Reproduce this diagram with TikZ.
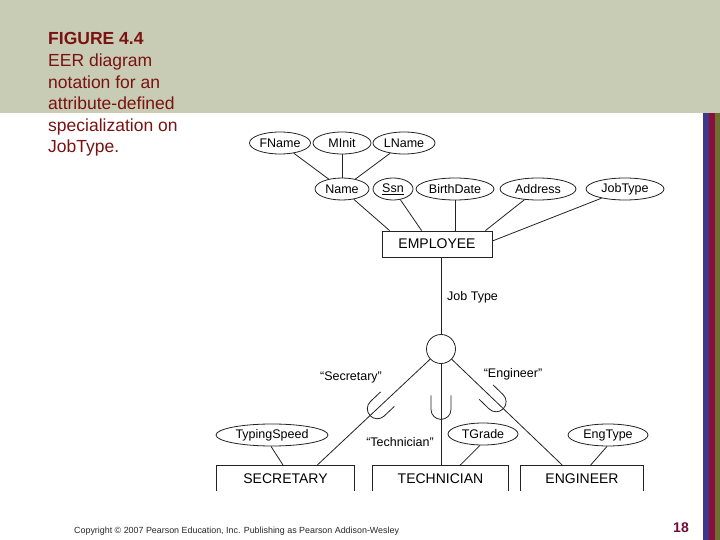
\documentclass[tikz,border=0pt]{standalone}
\usepackage{fontspec}
\setmainfont{Liberation Sans}
\usetikzlibrary{shapes.geometric,calc}
\definecolor{band}{RGB}{200,204,180}
\definecolor{captxt}{RGB}{122,18,18}
\definecolor{pagenum}{RGB}{112,14,52}
\definecolor{stripeblue}{RGB}{62,56,138}
\definecolor{stripered}{RGB}{140,14,60}
\definecolor{stripeolive}{RGB}{108,112,48}
\definecolor{ink}{RGB}{35,35,35}
\tikzset{
  conn/.style={draw=ink, line width=0.8pt},
  pics/subsetU/.style={code={\draw[conn] (-10pt,12pt) -- (-10pt,-2pt) arc[start angle=180,end angle=360,radius=10pt] -- (10pt,12pt);}}
}
\begin{document}
\begin{tikzpicture}[x=1pt,y=-1pt,
  attr/.style={ellipse, draw=ink, line width=0.8pt, inner sep=0pt, minimum height=22pt, font=\fontsize{12.5}{14}\selectfont},
  entity/.style={rectangle, inner sep=0pt, minimum height=26pt, font=\fontsize{14}{16}\selectfont},
  lbl/.style={inner sep=0pt, font=\fontsize{12.5}{14}\selectfont},
  capline/.style={anchor=base west, inner sep=0pt, text=captxt, font=\fontsize{17.5}{21}\selectfont}
]
\useasboundingbox (0,0) rectangle (720,540);
\fill[white] (0,0) rectangle (720,540);
\fill[band] (0,0) rectangle (720,113);
\fill[stripeblue] (703,113) rectangle (709,540);
\fill[stripered] (709,113) rectangle (715,540);
\fill[stripeolive] (715,113) rectangle (720,540);

% caption
\node[capline, font=\fontsize{17.5}{21}\selectfont\bfseries] (c1) at (48,45) {FIGURE 4.4};
\node[capline] (c2) at (48,66.6) {EER diagram};
\node[capline] (c3) at (48,88.2) {notation for an};
\node[capline] (c4) at (48,109.8) {attribute-defined};
\node[capline] (c5) at (48,131.4) {specialization on};
\node[capline] (c6) at (48,153) {JobType.};

% attributes
\node[attr, minimum width=61pt] (fname) at (280,143) {FName};
\node[attr, minimum width=58pt] (minit) at (342,143) {MInit};
\node[attr, minimum width=62pt] (lname) at (404,143) {LName};
\node[attr, minimum width=54pt] (name) at (342,189) {Name};
\node[attr, minimum width=40pt] (ssn) at (393,189) {\underline{Ssn}};
\node[attr, minimum width=78pt] (bdate) at (455,189) {BirthDate};
\node[attr, minimum width=76pt] (addr) at (538,189) {Address};
\node[attr, minimum width=78pt] (jobtype) at (625,189) {JobType};

\node[entity, draw=ink, line width=0.8pt, minimum width=110pt] (emp) at (437,244) {EMPLOYEE};

\node[circle, draw=ink, line width=0.8pt, minimum size=29pt, inner sep=0pt] (circ) at (441,349) {};

\node[entity, minimum width=137pt, minimum height=25pt] (sec) at (285.5,478.5) {SECRETARY};
\node[entity, minimum width=135pt, minimum height=25pt] (tech) at (440.5,478.5) {TECHNICIAN};
\node[entity, minimum width=122pt, minimum height=25pt] (eng) at (582,478.5) {ENGINEER};
\draw[conn] (sec.south west) |- (sec.north east) -- (sec.south east);
\draw[conn] (tech.south west) |- (tech.north east) -- (tech.south east);
\draw[conn] (eng.south west) |- (eng.north east) -- (eng.south east);

\node[attr, minimum width=112pt] (typing) at (272,435) {TypingSpeed};
\node[attr, minimum width=70pt] (tgrade) at (483,434) {TGrade};
\node[attr, minimum width=80pt] (engtype) at (608,435) {EngType};

% labels
\node[lbl, anchor=west] (jtl) at (447,297) {Job Type};
\node[lbl] (secl) at (351,377) {“Secretary”};
\node[lbl] (engl) at (513,374) {“Engineer”};
\node[lbl] (techl) at (400,442) {“Technician”};

% connectors
\draw[conn] (fname) -- (name);
\draw[conn] (minit) -- (name);
\draw[conn] (lname) -- (name);
\draw[conn] (name) -- ([xshift=8pt]emp.north west);
\draw[conn] (ssn) -- ([xshift=40pt]emp.north west);
\draw[conn] (bdate) -- (bdate |- emp.north);
\draw[conn] (addr) -- ([xshift=-7pt]emp.north east);
\draw[conn] (jobtype) -- ([yshift=3pt]emp.east);
\draw[conn] (circ) -- (circ |- emp.south);
\draw[conn] (circ) -- ([xshift=31pt]sec.north);
\draw[conn] (circ) -- (circ |- tech.north);
\draw[conn] (circ) -- ([xshift=-19pt]eng.north);
\draw[conn] ([xshift=-1pt]typing.south) -- ([xshift=-2pt]sec.north);
\draw[conn] ([xshift=-3pt]tgrade.south) -- ([xshift=19pt]tech.north);
\draw[conn] ([xshift=-1pt]engtype.south) -- ([xshift=8pt]eng.north);

% subset symbols
\coordinate (uL) at ($(circ)!0.5!([xshift=31pt]sec.north)$);
\coordinate (uM) at ($(circ)!0.5!(circ |- tech.north)$);
\coordinate (uR) at ($(circ)!0.44!([xshift=-19pt]eng.north)$);
\pic[rotate=-46.6] at (uL) {subsetU};
\pic at (uM) {subsetU};
\pic[rotate=46] at (uR) {subsetU};

% footer
\node[anchor=west, inner sep=0pt, text={rgb,255:red,40;green,40;blue,40}, font=\fontsize{8.9}{10}\selectfont] (copy) at (74,531) {Copyright © 2007 Pearson Education, Inc. Publishing as Pearson Addison-Wesley};
\node[inner sep=0pt, text=pagenum, font=\fontsize{14}{16}\selectfont\bfseries] (pnum) at (681,528) {18};
\end{tikzpicture}
\end{document}
